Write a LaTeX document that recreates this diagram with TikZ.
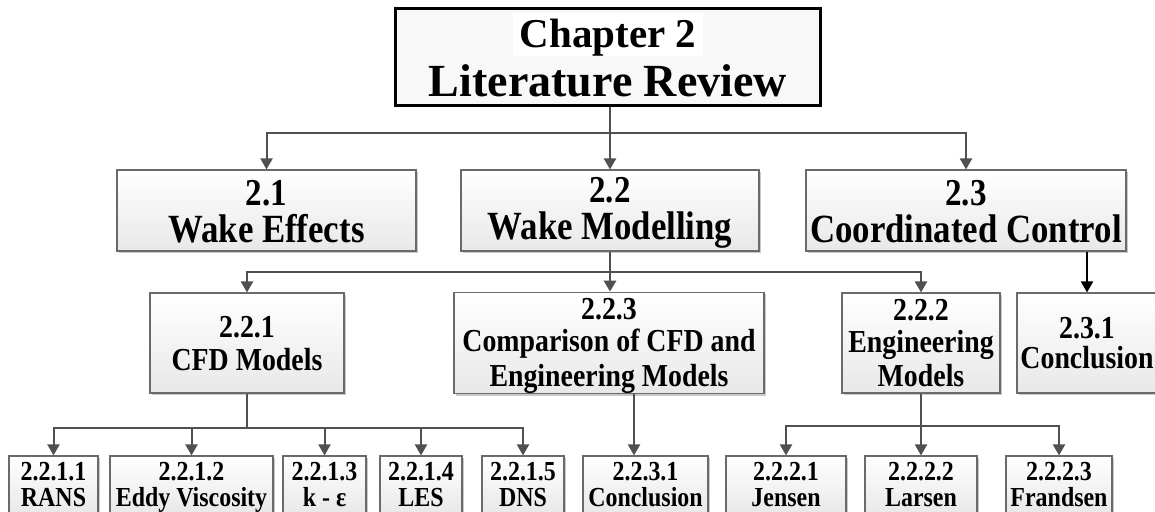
\documentclass[tikz,border=0pt]{standalone}
\usepackage{fontspec}
\setmainfont{Liberation Serif}
\newfontfamily\cond{Liberation Serif}[FakeStretch=0.87]
\usetikzlibrary{arrows.meta,shadows,calc}
\definecolor{conncol}{HTML}{505050}
\definecolor{boxline}{HTML}{6A6A6A}
\definecolor{titlefill}{HTML}{F8F8F8}
\newcommand\Ln[3]{\fontsize{#1}{#2}\selectfont\rule[\dimexpr(0.68em-#2)/2\relax]{0pt}{#2}#3}
\newcommand\BS[1]{\bfseries\fontsize{12pt}{#1}\selectfont}
\newcommand\CS[1]{\cond\bfseries\fontsize{12pt}{#1}\selectfont}
\newcommand\Lf[2]{\Ln{27.5pt}{26pt}{#1}\\\Ln{27.5pt}{26pt}{#2\rule[-6pt]{0pt}{1pt}}}
\begin{document}
\begin{tikzpicture}[x=1pt,y=-1pt,
  box/.style={draw=boxline, line width=1.1pt, top color=white, bottom color=black!9,
    inner sep=0pt, align=center,
    drop shadow={shadow xshift=1.8pt, shadow yshift=-1.8pt, fill=black!35, opacity=.6}},
  conn/.style={draw=conncol, line width=2pt, -{Triangle[width=12pt,length=11pt]}},
  plainline/.style={draw=conncol, line width=2pt}]
\useasboundingbox (0,0) rectangle (1155,511);
\fill[white] (0,0) rectangle (1155,511);
\clip (0,0) rectangle (1155,511);

% title
\node[draw=black, line width=3.5pt, fill=titlefill, minimum width=425pt, minimum height=97pt,
  inner sep=0pt, align=center, font=\BS{46pt}] (title) at (608,57)
  {\Ln{41pt}{46pt}{\setlength\fboxsep{0pt}\colorbox{white}{\rule[-9pt]{0pt}{43pt}\hspace{7pt}Chapter 2\hspace{7pt}}}\\
   \Ln{46pt}{46pt}{Literature Review}};

% level 1
\node[box, minimum width=299pt, minimum height=81pt, font=\CS{35pt}] (n21) at (266.5,210.5)
  {\Ln{38pt}{35pt}{2.1}\\\Ln{40pt}{35pt}{Wake Effects}};
\node[box, minimum width=298pt, minimum height=81pt, font=\CS{35pt}] (n22) at (610,210.5)
  {\Ln{38pt}{35pt}{2.2}\\\Ln{40pt}{35pt}{Wake Modelling}};
\node[box, minimum width=320pt, minimum height=81pt, font=\CS{35pt}] (n23) at (966,210.5)
  {\Ln{38pt}{35pt}{2.3}\\\Ln{40pt}{35pt}{Coordinated Control}};

% level 2
\node[box, minimum width=194pt, minimum height=100pt, font=\CS{33pt}] (n221) at (247,343)
  {\Ln{32pt}{33pt}{2.2.1}\\\Ln{32pt}{33pt}{CFD Models}};
\node[box, minimum width=310pt, minimum height=100pt, font=\CS{32.5pt}] (n223) at (609,343)
  {\Ln{32pt}{32.5pt}{2.2.3}\\\Ln{32pt}{32.5pt}{Comparison of CFD and}\\\Ln{32pt}{32.5pt}{Engineering Models}};
\node[box, minimum width=158pt, minimum height=100pt, font=\CS{31.5pt}] (n222) at (921,343)
  {\Ln{32pt}{31.5pt}{2.2.2}\\\Ln{32pt}{31.5pt}{Engineering}\\\Ln{32pt}{31.5pt}{Models}};
\node[box, minimum width=140pt, minimum height=100pt, font=\CS{30pt}] (n231) at (1087,343)
  {\Ln{32pt}{30pt}{2.3.1}\\\Ln{32pt}{30pt}{Conclusion}};

% level 3
\tikzset{leaf/.style={box, minimum height=58pt, font=\CS{26pt}}}
\node[leaf, minimum width=89pt] (n2211) at (53.5,485) {\Lf{2.2.1.1}{RANS}};
\node[leaf, minimum width=163pt] (n2212) at (191.5,485) {\Lf{2.2.1.2}{Eddy Viscosity}};
\node[leaf, minimum width=83pt] (n2213) at (324.5,485) {\Lf{2.2.1.3}{k - ε}};
\node[leaf, minimum width=82pt] (n2214) at (421,485) {\Lf{2.2.1.4}{LES}};
\node[leaf, minimum width=82pt] (n2215) at (523,485) {\Lf{2.2.1.5}{DNS}};
\node[leaf, minimum width=125pt] (n2231) at (645.5,485) {\Lf{2.2.3.1}{Conclusion}};
\node[leaf, minimum width=120pt] (n2221) at (786,485) {\Lf{2.2.2.1}{Jensen}};
\node[leaf, minimum width=112pt] (n2222) at (921,485) {\Lf{2.2.2.2}{Larsen}};
\node[leaf, minimum width=106pt] (n2223) at (1059,485) {\Lf{2.2.2.3}{Frandsen}};

% connectors: title -> level 1
\coordinate (j1) at ($(n22.north)+(0,-36)$);
\draw[plainline] (title.south -| n22.north) -- (j1);
\draw[conn] (j1) -- (n22.north);
\draw[conn] (j1) -| (n21.north);
\draw[conn] (j1) -| (n23.north);

% 2.2 -> level 2
\coordinate (j2) at ($(n22.south)+(0,20)$);
\draw[conn, line width=2.8pt] (n22.south) -- (n22.south |- n223.north);
\draw[conn] (j2) -| (n221.north);
\draw[conn] (j2) -| (n222.north);

% 2.3 -> 2.3.1
\draw[conn, draw=black] (n231.north |- n23.south) -- (n231.north);

% 2.2.1 -> level 3
\coordinate (j3) at ($(n221.south)+(0,34)$);
\draw[plainline] (n221.south) -- (j3);
\draw[conn] (j3) -| (n2211.north);
\draw[conn] (j3) -| (n2212.north);
\draw[conn] (j3) -| (n2213.north);
\draw[conn] (j3) -| (n2214.north);
\draw[conn] (j3) -| (n2215.north);

% 2.2.3 -> 2.2.3.1
\draw[conn] ([xshift=25pt]n223.south) -- ([xshift=25pt]n223.south |- n2231.north);

% 2.2.2 -> level 3
\coordinate (j4) at ($(n222.south)+(0,32)$);
\draw[conn] (n222.south) -- (n2222.north);
\draw[conn] (j4) -| (n2221.north);
\draw[conn] (j4) -| (n2223.north);
\end{tikzpicture}
\end{document}
